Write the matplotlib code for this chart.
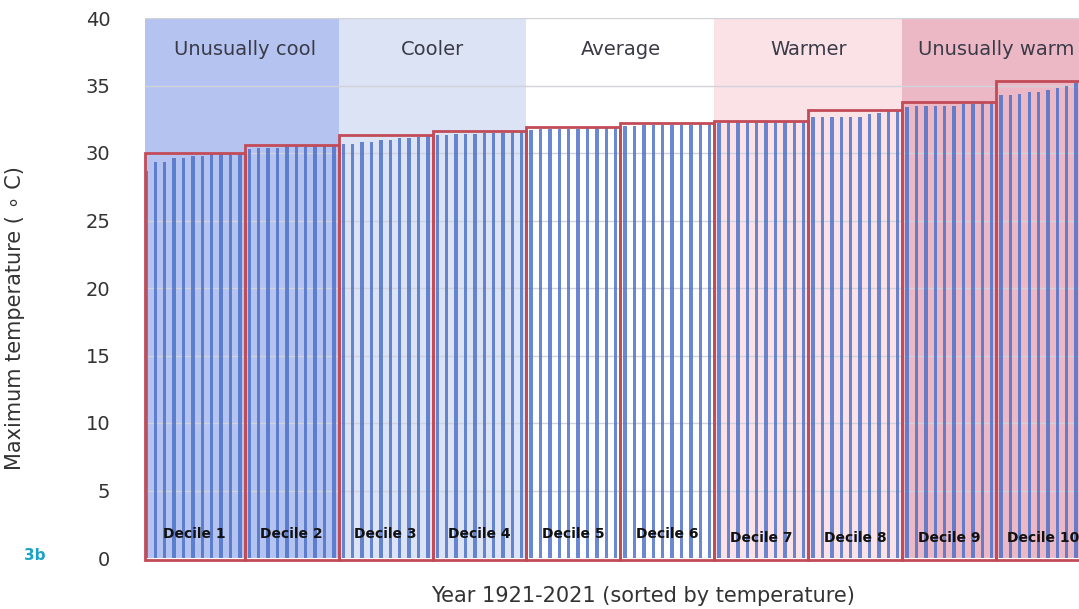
import numpy as np
import matplotlib.pyplot as plt
from matplotlib.patches import Rectangle

# max temperature per year, sorted, grouped in deciles (101 years 1921-2021)
decile_1 = [28.7, 29.3, 29.3, 29.6, 29.6, 29.8, 29.8, 29.9, 29.9, 30.0, 30.0]
decile_2 = [30.3, 30.4, 30.4, 30.4, 30.5, 30.5, 30.5, 30.5, 30.5, 30.6]
decile_3 = [30.7, 30.7, 30.8, 30.8, 31.0, 31.0, 31.1, 31.1, 31.2, 31.3]
decile_4 = [31.3, 31.3, 31.4, 31.4, 31.4, 31.5, 31.5, 31.5, 31.6, 31.6]
decile_5 = [31.7, 31.8, 31.8, 31.8, 31.8, 31.8, 31.9, 31.9, 31.9, 31.9]
decile_6 = [32.0, 32.0, 32.1, 32.1, 32.1, 32.1, 32.1, 32.1, 32.2, 32.2]
decile_7 = [32.2, 32.3, 32.3, 32.3, 32.3, 32.3, 32.3, 32.3, 32.4, 32.4]
decile_8 = [32.7, 32.7, 32.7, 32.7, 32.7, 32.7, 32.9, 33.0, 33.1, 33.2]
decile_9 = [33.4, 33.5, 33.5, 33.5, 33.5, 33.5, 33.6, 33.6, 33.7, 33.8]
decile_10 = [34.3, 34.3, 34.4, 34.5, 34.5, 34.7, 34.8, 35.0, 35.2, 35.3]
deciles = [decile_1, decile_2, decile_3, decile_4, decile_5,
           decile_6, decile_7, decile_8, decile_9, decile_10]
decile_labels = ['Decile %d' % (i + 1) for i in range(10)]

band_labels = ['Unusually cool', 'Cooler', 'Average', 'Warmer', 'Unusually warm']
band_colors = ['#b4c3f0', '#dce3f5', '#ffffff', '#fae2e7', '#edb8c5']

temps = np.concatenate(deciles)
x = np.arange(len(temps))

fig = plt.figure(figsize=(10.79, 6.09), dpi=100)
ax = fig.add_axes([145 / 1079, 51 / 609, 934 / 1079, 540 / 609])

x_left, x_right = -0.1, 99.3
ax.set_xlim(x_left, x_right)
ax.set_ylim(0, 40)

# decile edges (first decile holds the extra year)
edges = [x_left] + [10 * k + 0.5 for k in range(1, 10)] + [100.5]

# background bands, two deciles each
for j, (lab, col) in enumerate(zip(band_labels, band_colors)):
    a, b = edges[2 * j], edges[2 * j + 2]
    ax.axvspan(a, b, color=col, zorder=0, lw=0)
    ax.text(edges[2 * j + 1], 37.7, lab, ha='center', va='center',
            fontsize=14, color='#3b3b48', zorder=5, clip_on=False)

ax.bar(x, temps, width=0.36, color='#4a6fc8', alpha=0.82, zorder=2, lw=0)

for k, vals in enumerate(deciles):
    a, b = edges[k], edges[k + 1]
    ax.add_patch(Rectangle((a, -0.15), b - a, max(vals) + 0.15, fill=False,
                           edgecolor='#c24b57', lw=2.0, zorder=4, clip_on=False))
    y_lab = 1.8 if k < 6 else 1.5
    ax.text((a + b) / 2, y_lab, decile_labels[k], ha='center', va='center',
            fontsize=10, fontweight='bold', color='#111111', zorder=5)

ax.set_yticks(np.arange(0, 41, 5))
ax.yaxis.grid(True, color='#d2d2da', lw=1)
ax.set_axisbelow(True)
ax.set_xticks([])
ax.tick_params(axis='y', length=0, pad=25, labelsize=14, labelcolor='#333333')
for s in ax.spines.values():
    s.set_visible(False)

ax.set_ylabel('Maximum temperature ( ∘ C)', fontsize=15, color='#333333')
ax.yaxis.set_label_coords(-0.128, 0.444)
fig.text(643 / 1079, 13 / 609, 'Year 1921-2021 (sorted by temperature)',
         ha='center', va='center', fontsize=15, color='#333333')
fig.text(35 / 1079, 53 / 609, '3b', ha='center', va='center', fontsize=11,
         fontweight='bold', color='#1aa3c8')

fig.savefig('out.png', dpi=100)
